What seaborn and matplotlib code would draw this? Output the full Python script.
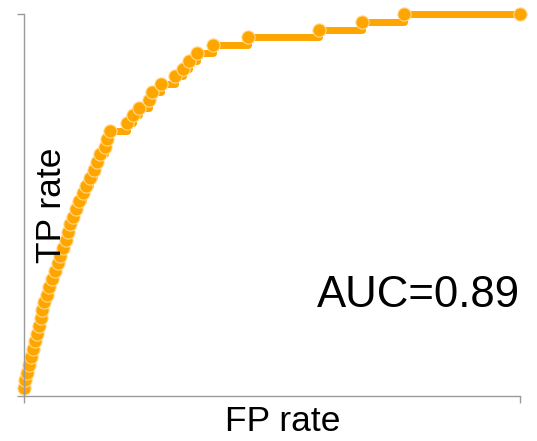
import matplotlib
matplotlib.use("Agg")
import matplotlib.pyplot as plt
import seaborn as sns
import pandas as pd

# ROC operating points (false-positive rate, true-positive rate)
fp_rate = [0.000, 0.002, 0.006, 0.010, 0.014, 0.018, 0.022, 0.026, 0.030, 0.034,
           0.037, 0.040, 0.046, 0.051, 0.056, 0.062, 0.068, 0.073, 0.079, 0.084,
           0.089, 0.093, 0.098, 0.105, 0.111, 0.119, 0.125, 0.133, 0.141, 0.147,
           0.153, 0.163, 0.167, 0.173, 0.207, 0.220, 0.232, 0.253, 0.259, 0.276,
           0.305, 0.321, 0.333, 0.349, 0.381, 0.452, 0.595, 0.681, 0.766, 1.000]
tp_rate = [0.020, 0.041, 0.061, 0.082, 0.102, 0.122, 0.143, 0.163, 0.184, 0.204,
           0.224, 0.245, 0.265, 0.286, 0.306, 0.327, 0.347, 0.367, 0.388, 0.408,
           0.429, 0.449, 0.469, 0.490, 0.510, 0.531, 0.551, 0.571, 0.592, 0.612,
           0.633, 0.653, 0.673, 0.694, 0.714, 0.735, 0.755, 0.776, 0.796, 0.816,
           0.837, 0.857, 0.878, 0.898, 0.918, 0.939, 0.959, 0.980, 1.000, 1.000]
auc_value = 0.89
axis_ticks = [0, 1]

sns.set_style("white")
plt.rcParams["font.family"] = ["Liberation Sans", "DejaVu Sans"]

df = pd.DataFrame({"fpr": fp_rate, "tpr": tp_rate})

fig = plt.figure(figsize=(5.37, 4.41), dpi=100)
ax = fig.add_axes([24 / 537, 45 / 441, 496 / 537, 382 / 441])

sns.lineplot(data=df, x="fpr", y="tpr", ax=ax, sort=False, estimator=None,
             drawstyle="steps-post", color="#FFA500", linewidth=5,
             marker="o", markersize=9.5, markerfacecolor="#FFA500",
             markeredgecolor="#FFD98A", markeredgewidth=0.8, clip_on=False)

ax.set_xlim(0, 1)
ax.set_ylim(0, 1)
ax.set_xticks(axis_ticks)
ax.set_yticks(axis_ticks)
ax.set_xticklabels([])
ax.set_yticklabels([])
ax.tick_params(axis="both", direction="out", length=5, width=1,
               color="#9a9a9a", bottom=True, left=True)
for side in ("top", "right"):
    ax.spines[side].set_visible(False)
for side in ("left", "bottom"):
    ax.spines[side].set_color("#9a9a9a")
    ax.spines[side].set_linewidth(1)

ax.set_xlabel("FP rate", fontsize=25.5, color="black")
ax.xaxis.set_label_coords((283 - 24) / 496, (396 - 431) / 382)
ax.xaxis.label.set_va("baseline")
ax.xaxis.label.set_ha("center")

ax.set_ylabel("")
ax.text((61 - 24) / 496, 0.5, "TP rate", transform=ax.transAxes,
        rotation=90, rotation_mode="anchor", ha="center", va="baseline",
        fontsize=25.5, color="black")

ax.text(1.0, (396 - 307) / 382, f"AUC={auc_value:.2f}", transform=ax.transAxes,
        ha="right", va="baseline", fontsize=31.5, color="black")

fig.savefig("out.png", dpi=100)
